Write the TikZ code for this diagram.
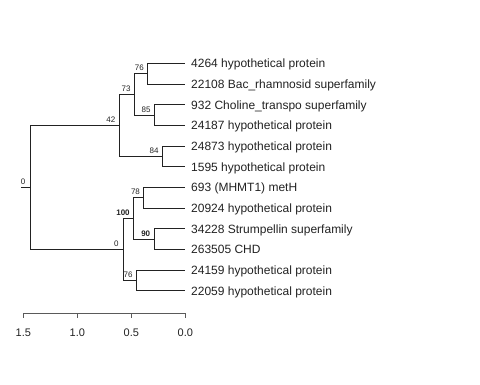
\documentclass[tikz,border=0pt]{standalone}
\usepackage{fontspec}
\setmainfont{Liberation Sans}
\usetikzlibrary{positioning}
\definecolor{ink}{HTML}{222222}
\definecolor{rule}{HTML}{5A5A5A}
\tikzset{
  br/.style={draw=ink,line width=0.8pt},
  leaf/.style={inner sep=0pt,anchor=base west,font=\fontsize{12}{14}\selectfont,text=ink},
  bs/.style={inner sep=0pt,anchor=south east,xshift=-3.6pt,yshift=2.4pt,font=\fontsize{8}{9}\selectfont,text=ink},
  bsb/.style={bs,font=\fontsize{8}{9}\selectfont\bfseries},
  axl/.style={inner sep=0pt,font=\fontsize{11}{13}\selectfont,text=ink},
  axis/.style={draw=rule,line width=0.8pt},
}
\begin{document}
\begin{tikzpicture}[x=1pt,y=-1pt]
\useasboundingbox (0,0) rectangle (480,384);
% tips
\coordinate (t1) at (185,63.3);  \coordinate (t2) at (185,84.0);
\coordinate (t3) at (185,104.7); \coordinate (t4) at (185,125.3);
\coordinate (t5) at (185,146.0); \coordinate (t6) at (185,166.7);
\coordinate (t7) at (185,187.3); \coordinate (t8) at (185,208.0);
\coordinate (t9) at (185,228.7); \coordinate (t10) at (185,249.3);
\coordinate (t11) at (185,270.0); \coordinate (t12) at (185,290.7);
% internal nodes
\coordinate (n76a) at (147.5,73.65);
\coordinate (n85) at (154.3,115.0);
\coordinate (n73) at (134.3,94.3);
\coordinate (n84) at (162.3,156.35);
\coordinate (n42) at (119.0,125.3);
\coordinate (n78) at (143.7,197.65);
\coordinate (n90) at (154.0,239.0);
\coordinate (n100) at (133.5,218.3);
\coordinate (n76b) at (136.3,280.35);
\coordinate (n0) at (123.5,249.3);
\coordinate (root) at (30.3,187.3);
\coordinate (stub) at (21,187.3);
% branches
\draw[br] (stub) -- (root);
\draw[br] (root) |- (n42); \draw[br] (root) |- (n0);
\draw[br] (n42) |- (n73); \draw[br] (n42) |- (n84);
\draw[br] (n73) |- (n76a); \draw[br] (n73) |- (n85);
\draw[br] (n76a) |- (t1); \draw[br] (n76a) |- (t2);
\draw[br] (n85) |- (t3); \draw[br] (n85) |- (t4);
\draw[br] (n84) |- (t5); \draw[br] (n84) |- (t6);
\draw[br] (n0) |- (n100); \draw[br] (n0) |- (n76b);
\draw[br] (n100) |- (n78); \draw[br] (n100) |- (n90);
\draw[br] (n78) |- (t7); \draw[br] (n78) |- (t8);
\draw[br] (n90) |- (t9); \draw[br] (n90) |- (t10);
\draw[br] (n76b) |- (t11); \draw[br] (n76b) |- (t12);
% tip labels
\foreach \i/\txt in {1/4264 hypothetical protein,2/22108 Bac\_rhamnosid superfamily,
  3/932 Choline\_transpo superfamily,4/24187 hypothetical protein,
  5/24873 hypothetical protein,6/1595 hypothetical protein,
  7/{693 (MHMT1) metH},8/20924 hypothetical protein,
  9/34228 Strumpellin superfamily,10/263505 CHD,
  11/24159 hypothetical protein,12/22059 hypothetical protein}
  \node[leaf] (lab\i) at ([xshift=6pt,yshift=-4.3pt]t\i) {\txt};
% support values
\node[bs,xshift=-1.2pt] (broot) at (root) {0};
\node[bs] (b42) at (n42) {42};
\node[bs] (b73) at (n73) {73};
\node[bs] (b76a) at (n76a) {76};
\node[bs] (b85) at (n85) {85};
\node[bs] (b84) at (n84) {84};
\node[bs,xshift=-1.2pt] (b0) at (n0) {0};
\node[bsb] (b100) at (n100) {100};
\node[bs] (b78) at (n78) {78};
\node[bsb] (b90) at (n90) {90};
\node[bs] (b76b) at (n76b) {76};
% scale axis
\coordinate (a15) at (23.3,313.3);
\coordinate (a00) at (185.3,313.3);
\draw[axis] (a15) -- (a00);
\foreach \v/\x in {15/23.3,10/77.3,05/131.3,00/185.3}{
  \coordinate (k\v) at (\x,313.3);
  \draw[axis] (k\v) -- ++(0,5);
}
\node[axl] (v15) at (23.3,333) {1.5};
\node[axl] (v10) at (77.3,333) {1.0};
\node[axl] (v05) at (131.3,333) {0.5};
\node[axl] (v00) at (185.3,333) {0.0};
\end{tikzpicture}
\end{document}
